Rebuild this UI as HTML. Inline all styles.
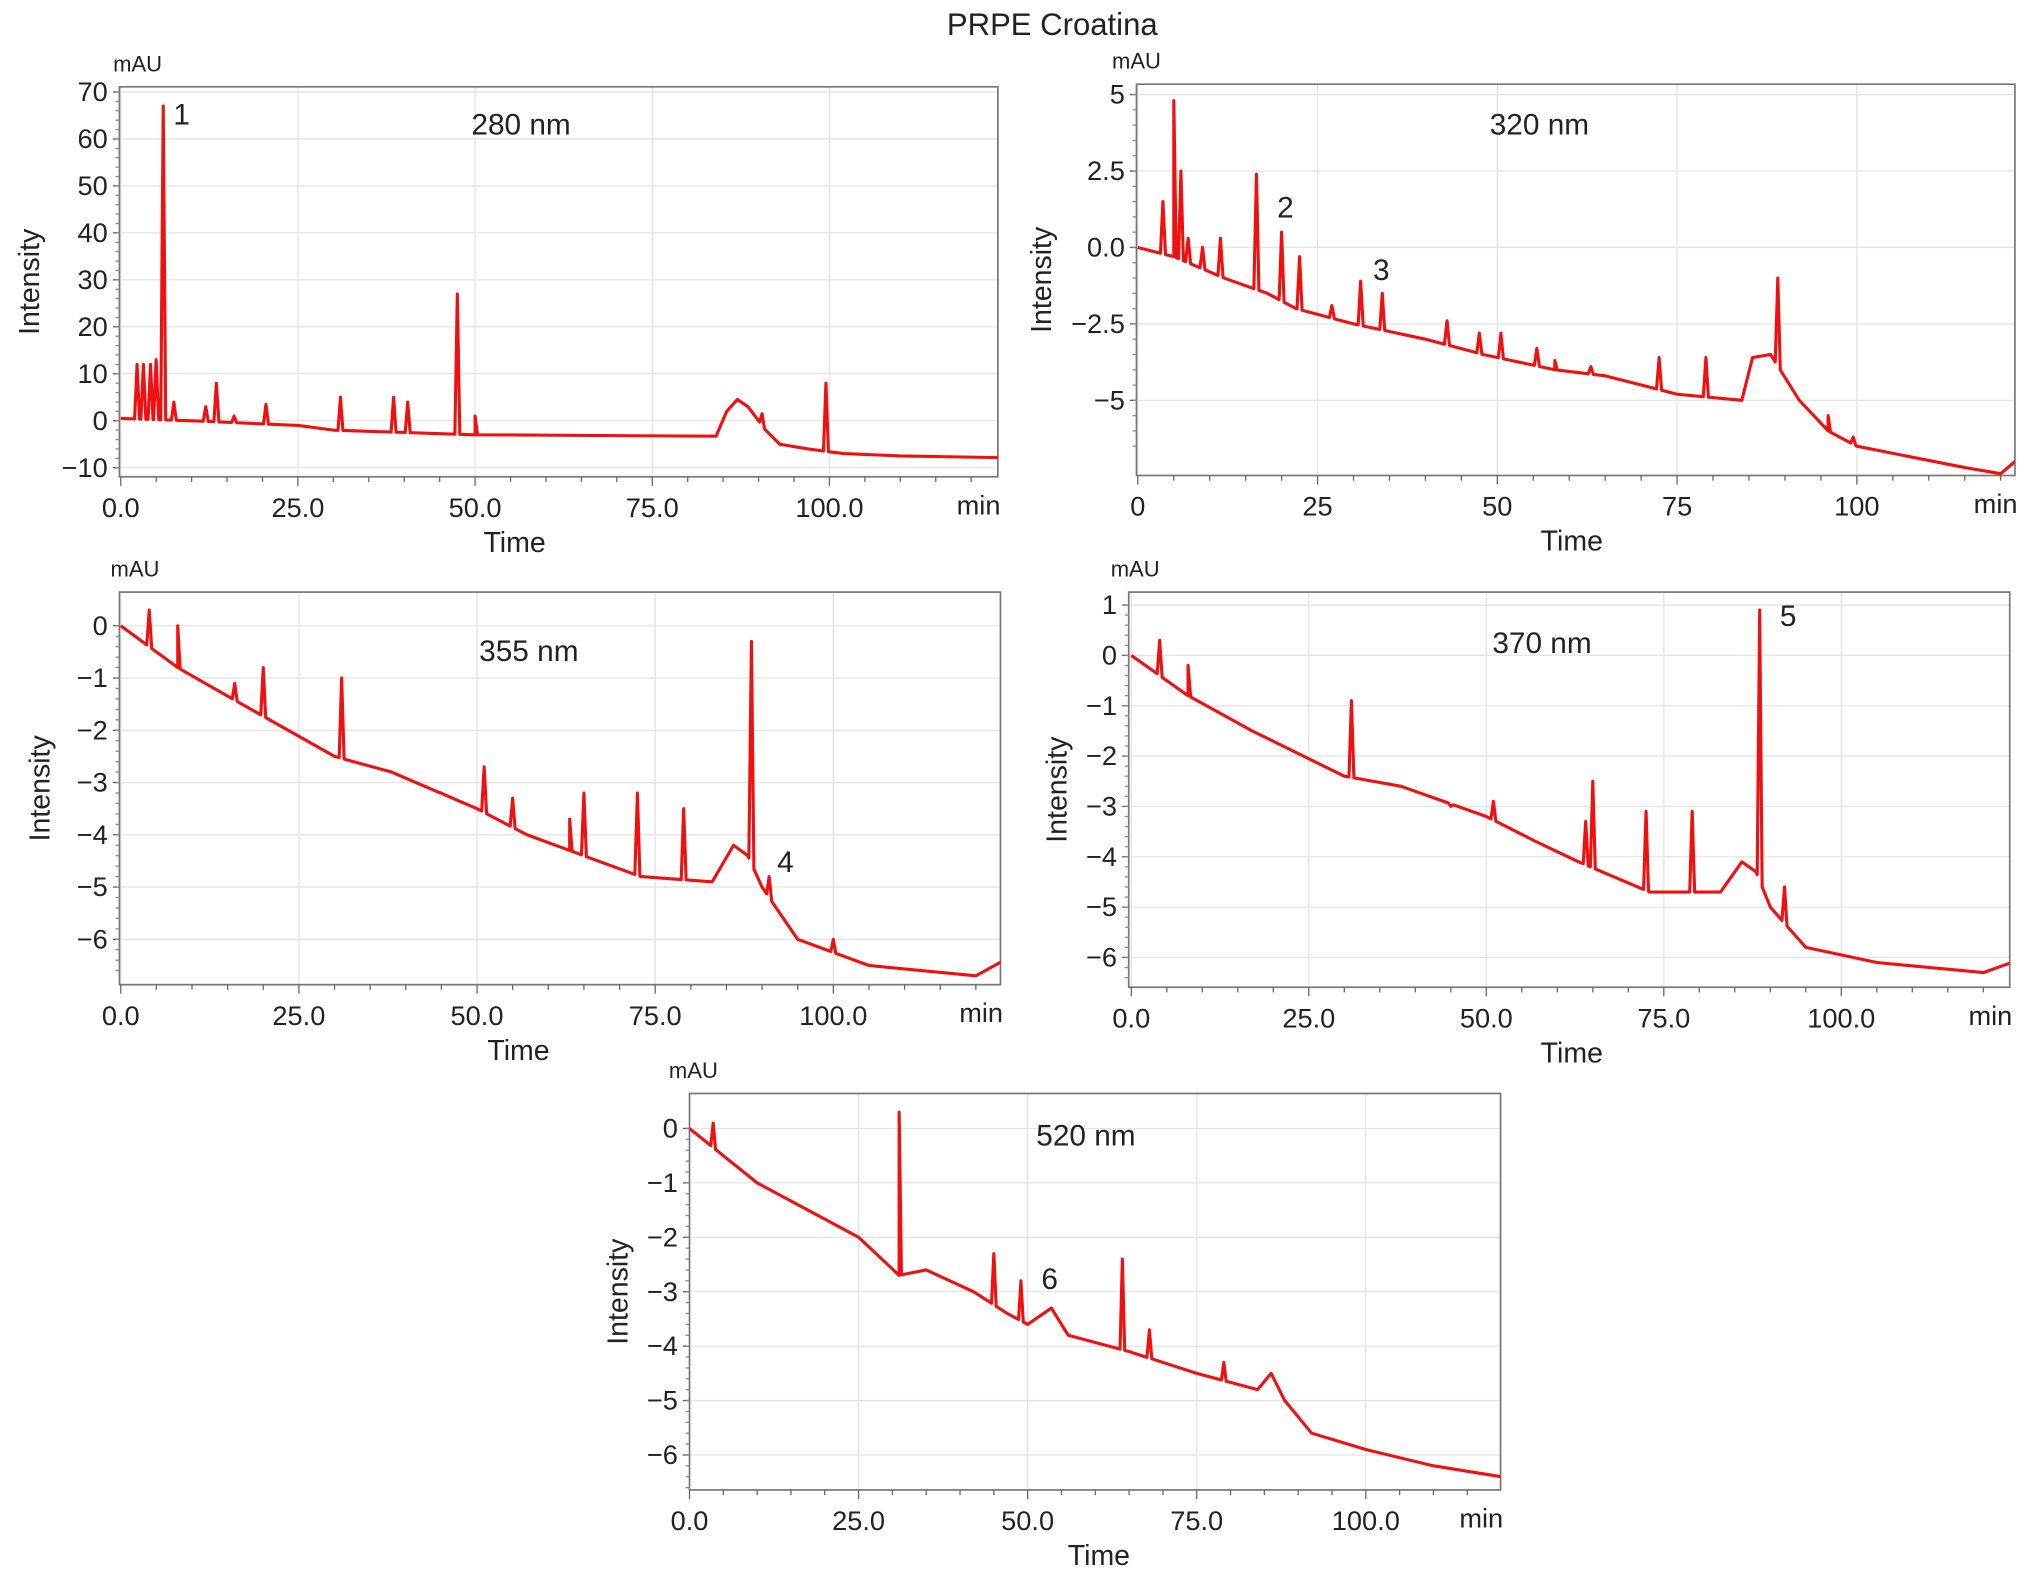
<!DOCTYPE html>
<html><head><meta charset="utf-8"><style>
html,body{margin:0;padding:0;background:#fff}
svg{display:block}
text{font-family:"Liberation Sans",Arial,sans-serif;fill:#222}
</style></head><body>
<svg id="fig" width="2032" height="1591" viewBox="0 0 1568 1228" xmlns="http://www.w3.org/2000/svg">
<text x="812" y="27" font-size="24" text-anchor="middle">PRPE Croatina</text>
</svg>
<script>
// ---- data ----
const base280T=[0,10,25,30,50,84,85.5,87,88.5,89.5,91,93,97,102,110,130];
const base280V=[0.5,0,-1,-2,-3,-3.3,2,4.5,3,1,-2,-5,-6,-7,-7.5,-8];
const peak280T=[2.3,3.2,4.2,5,6,7.5,12,13.5,16,20.5,31,38.5,40.5,47.5,50,90.5,99.5];
const peak280V=[12,12,12,13,67,4,3,8,1,3.5,5,5,4,27,1,1.5,8];

const base320T=[0,5,12,18,22,30,40,48,58,65,75,84,85.5,88,92,96,100,115,120,123,130];
const base320V=[0,-0.3,-1,-1.5,-2,-2.5,-3,-3.5,-4,-4.2,-4.8,-5,-3.6,-3.5,-5,-6,-6.5,-7.2,-7.4,-6.8,-6.5];
const peak320T=[3.5,5,6,7,9,11.5,16.5,20,22.5,27,31,34,43,47.5,50.5,55.5,58,63,72.5,79,89,96,99.5];
const peak320V=[1.5,4.8,2.5,0.3,0,0.3,2.4,0.5,-0.3,-1.9,-1.1,-1.5,-2.4,-2.8,-2.8,-3.3,-3.7,-3.9,-3.6,-3.6,-1,-5.5,-6.2];

const base355T=[0,8,17,30,38,50,57,63,73,83,86,88,90,95,105,120,124,130];
const base355V=[0,-0.8,-1.5,-2.5,-2.8,-3.5,-4,-4.3,-4.8,-4.9,-4.2,-4.4,-5,-6,-6.5,-6.7,-6.4,-6.3];
const peak355T=[4,8,16,20,31,45,51,55,63,65,72.5,79,88.5,91,100];
const peak355V=[0.3,0,-1.1,-0.8,-1,-3.2,-2.7,-3.3,-3.7,-3.2,-3.2,-3.5,-0.3,-4.8,-6];

const base370T=[0,8,17,30,38,50,57,63,73,83,86,88,90,95,105,120,124,130];
const base370V=[0,-0.8,-1.5,-2.4,-2.6,-3.2,-3.7,-4.1,-4.7,-4.7,-4.1,-4.3,-5,-5.8,-6.1,-6.3,-6.1,-6];
const peak370T=[4,8,31,45,51,64,65,72.5,79,88.5,92];
const peak370V=[0.3,-0.2,-0.9,-3,-2.9,-3.3,-2.5,-3.1,-3.1,0.9,-4.6];

const base520T=[0,10,25,31,35,42,47,50,53.5,56,65,75,84,86,88,92,100,110,120,130];
const base520V=[0,-1,-2,-2.7,-2.6,-3,-3.4,-3.6,-3.3,-3.8,-4.1,-4.5,-4.8,-4.5,-5,-5.6,-5.9,-6.2,-6.4,-6.4];
const peak520T=[3.5,31,45,49,64,68,79];
const peak520V=[0.1,0.3,-2.3,-2.8,-2.4,-3.7,-4.3];

const yTicks280=[70,60,50,40,30,20,10,0,-10];
const yTicks320=[5,2.5,0,-2.5,-5];
const yLab320=["5","2.5","0.0","\u22122.5","\u22125"];
const yTicks6=[0,-1,-2,-3,-4,-5,-6];
const yTicks7=[1,0,-1,-2,-3,-4,-5,-6];
const xTicksA=[0,25,50,75,100];
const xLabA=["0.0","25.0","50.0","75.0","100.0"];
const xLabB=["0","25","50","75","100"];

// ---- drawing ----
const NS="http://www.w3.org/2000/svg";
const svg=document.getElementById('fig');
function el(tag,attrs,parent){const e=document.createElementNS(NS,tag);for(const k in attrs)e.setAttribute(k,attrs[k]);(parent||svg).appendChild(e);return e;}
function lerp(T,V,t){for(let i=0;i<T.length-1;i++){if(t>=T[i]&&t<=T[i+1]){return V[i]+(V[i+1]-V[i])*(t-T[i])/(T[i+1]-T[i]);}}return V[V.length-1];}
function fmt(v){return v<0?"\u2212"+Math.abs(v):String(v);}

function panel(o){
  const g=el('g',{});
  
  
  const X=t=>o.x0+(t-0)*(o.x100-o.x0)/100;
  const Y=v=>o.yA+(o.vA-v)*(o.yB-o.yA)/(o.vA-o.vB);
  const cp=el('clipPath',{id:'clip-'+o.name},g);
  el('rect',{x:o.L,y:o.T,width:o.R-o.L,height:o.B-o.T},cp);
  o.yt.forEach(v=>{const l=el('line',{x1:o.L,x2:o.R,y1:Y(v),y2:Y(v),stroke:'#e4e4e4','stroke-width':1},g);
    });
  xTicksA.forEach(t=>{if(X(t)<o.R){const l=el('line',{x1:X(t),x2:X(t),y1:o.T,y2:o.B,stroke:'#e4e4e4','stroke-width':1},g);
    }});
  const f=el('rect',{x:o.L,y:o.T,width:o.R-o.L,height:o.B-o.T,fill:'none',stroke:'#777','stroke-width':1.3},g);
  
  o.yt.forEach((v,i)=>{el('line',{x1:o.L-5,x2:o.L,y1:Y(v),y2:Y(v),stroke:'#555'},g);
    const t=el('text',{x:o.L-9,y:Y(v)+7,'font-size':21,'text-anchor':'end'},g);
    
    t.textContent=o.yl?o.yl[i]:fmt(v);});
  const step=(o.yt[0]-o.yt[1])/5;
  for(let v=o.yt[o.yt.length-1]-3*step;v<=o.yt[0]+1e-6;v+=step){if(Y(v)>o.T&&Y(v)<o.B)el('line',{x1:o.L-3,x2:o.L,y1:Y(v),y2:Y(v),stroke:'#888'},g);}
  for(let t=0;X(t)<=o.R;t+=5){el('line',{x1:X(t),x2:X(t),y1:o.B,y2:o.B+(t%25==0?7:4),stroke:'#666'},g);}
  xTicksA.forEach((t,i)=>{const tx=el('text',{x:X(t),y:o.B+31,'font-size':21,'text-anchor':'middle'},g);
    tx.textContent=o.xl[i];});
  const mn=el('text',{x:o.R+2,y:o.B+29,'font-size':21,'text-anchor':'end'},g);
  mn.textContent='min';
  const tm=el('text',{x:o.timeX,y:o.B+58,'font-size':22,'text-anchor':'middle'},g);
  tm.textContent='Time';
  const it=el('text',{x:0,y:0,'font-size':22,'text-anchor':'middle',transform:`translate(${o.intX},${(o.T+o.B)/2}) rotate(-90)`},g);
  it.textContent='Intensity';
  const ma=el('text',{x:o.mauX,y:o.T-12,'font-size':17,'text-anchor':'middle'},g);
  ma.textContent='mAU';
  const wl=el('text',{x:o.wlX,y:o.wlY,'font-size':23,'text-anchor':'middle'},g);
  wl.textContent=o.wl;
  o.labels.forEach(lb=>{const t=el('text',{x:lb[0],y:lb[1],'font-size':23,'text-anchor':'middle'},g);
    t.textContent=lb[2];});
  const pts=[];
  o.bT.forEach((t,i)=>pts.push([t,o.bV[i]]));
  o.pT.forEach((t,i)=>{const w=0.35;pts.push([t-w,lerp(o.bT,o.bV,t-w)]);pts.push([t,o.pV[i]]);pts.push([t+w,lerp(o.bT,o.bV,t+w)]);});
  pts.sort((a,b)=>a[0]-b[0]);
  const d=pts.map((p,i)=>(i?'L':'M')+X(p[0]).toFixed(1)+','+Y(p[1]).toFixed(1)).join('');
  const path=el('path',{d:d,fill:'none',stroke:'#f01010','stroke-width':2.4,'stroke-linejoin':'round','clip-path':'url(#clip-'+o.name+')'},g);
  
  
}

panel({name:'280nm',L:92,R:770,T:67,B:368,x0:93,x100:640,yA:71,vA:70,yB:361,vB:-10,yt:yTicks280,xl:xLabA,
  timeX:397,intX:30,mauX:106,wlX:402,wlY:104,wl:'280 nm',labels:[[140,96,'1']],bT:base280T,bV:base280V,pT:peak280T,pV:peak280V});
panel({name:'320nm',L:877,R:1555,T:65,B:367,x0:878,x100:1433,yA:73,vA:5,yB:309,vB:-5,yt:yTicks320,yl:yLab320,xl:xLabB,
  timeX:1213,intX:811,mauX:877,wlX:1188,wlY:104,wl:'320 nm',labels:[[992,168,'2'],[1066,216,'3']],bT:base320T,bV:base320V,pT:peak320T,pV:peak320V});
panel({name:'355nm',L:92,R:772,T:457,B:760,x0:93,x100:643,yA:483,vA:0,yB:725,vB:-6,yt:yTicks6,xl:xLabA,
  timeX:400,intX:38,mauX:104,wlX:408,wlY:510,wl:'355 nm',labels:[[606,673,'4']],bT:base355T,bV:base355V,pT:peak355T,pV:peak355V});
panel({name:'370nm',L:871,R:1551,T:457,B:762,x0:873,x100:1421,yA:467,vA:1,yB:739,vB:-6,yt:yTicks7,xl:xLabA,
  timeX:1213,intX:823,mauX:876,wlX:1190,wlY:504,wl:'370 nm',labels:[[1380,483,'5']],bT:base370T,bV:base370V,pT:peak370T,pV:peak370V});
panel({name:'520nm',L:532,R:1158,T:844,B:1150,x0:532,x100:1054,yA:871,vA:0,yB:1123,vB:-6,yt:yTicks6,xl:xLabA,
  timeX:848,intX:484,mauX:535,wlX:838,wlY:884,wl:'520 nm',labels:[[810,995,'6']],bT:base520T,bV:base520V,pT:peak520T,pV:peak520V});
</script>
</body></html>
